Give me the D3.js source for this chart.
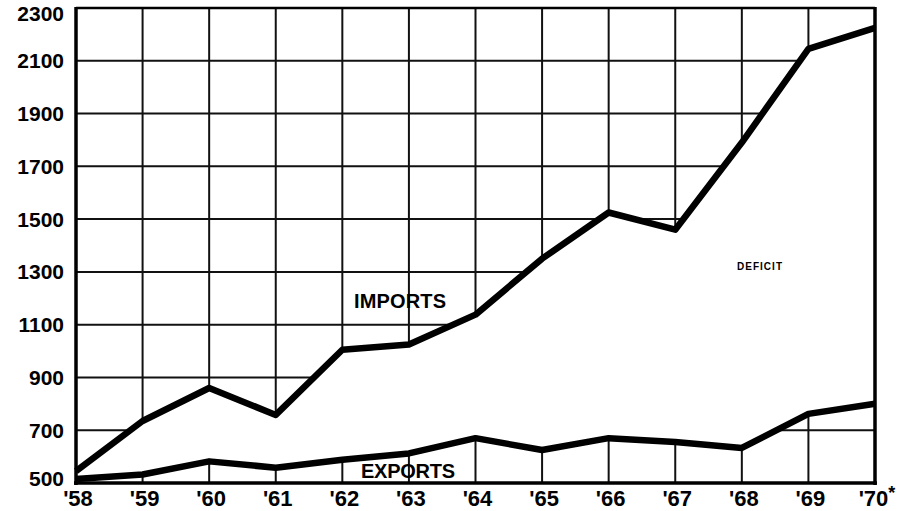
<!DOCTYPE html>
<html><head><meta charset="utf-8">
<script src="https://cdn.jsdelivr.net/npm/d3@7"></script>
<style>html,body{margin:0;padding:0;background:#fff;}</style>
</head><body>
<svg id="c" width="911" height="511"></svg>
<script>
const years = ["'58","'59","'60","'61","'62","'63","'64","'65","'66","'67","'68","'69","'70"];
const imports = [545, 735, 860, 758, 1005, 1025, 1138, 1350, 1525, 1460, 1790, 2145, 2225];
const exports = [515, 532, 582, 558, 588, 612, 670, 625, 670, 655, 633, 762, 800];
const yTicks = [500, 700, 900, 1100, 1300, 1500, 1700, 1900, 2100, 2300];

const svg = d3.select("#c");
const L = 76, R = 875, T = 8, B = 483;
const x = d3.scalePoint().domain(years).range([L, R]);
const y = d3.scaleLinear().domain([500, 2300]).range([B, T]);
const font = "'Liberation Sans', Arial, sans-serif";

// grid
const g = svg.append("g");
g.selectAll("line.v").data(years).join("line")
  .attr("x1", d => x(d)).attr("x2", d => x(d)).attr("y1", T).attr("y2", B)
  .attr("stroke", "#111").attr("stroke-width", 2);
g.selectAll("line.h").data(yTicks).join("line")
  .attr("x1", L).attr("x2", R).attr("y1", d => y(d)).attr("y2", d => y(d))
  .attr("stroke", "#111").attr("stroke-width", 2);

// deficit area (white, hides grid)
const idx = d3.range(years.length);
const area = d3.area().x(i => x(years[i])).y0(i => y(exports[i])).y1(i => y(imports[i]));
svg.append("path").datum(idx).attr("d", area).attr("fill", "#fff");

// frame
svg.append("line").attr("x1", L).attr("x2", L).attr("y1", T-1).attr("y2", B+2).attr("stroke", "#000").attr("stroke-width", 3.5);
svg.append("line").attr("x1", R).attr("x2", R).attr("y1", T-1).attr("y2", B+2).attr("stroke", "#000").attr("stroke-width", 3.5);
svg.append("line").attr("x1", L).attr("x2", R).attr("y1", T).attr("y2", T).attr("stroke", "#000").attr("stroke-width", 2.5);
svg.append("line").attr("x1", L-2).attr("x2", R+2).attr("y1", B).attr("y2", B).attr("stroke", "#000").attr("stroke-width", 3.5);

// lines
const line = arr => d3.line().x(i => x(years[i])).y(i => y(arr[i]));
svg.append("path").datum(idx).attr("d", line(imports)).attr("fill", "none")
  .attr("stroke", "#000").attr("stroke-width", 6.5).attr("stroke-linejoin", "round");
svg.append("path").datum(idx).attr("d", line(exports)).attr("fill", "none")
  .attr("stroke", "#000").attr("stroke-width", 6.5).attr("stroke-linejoin", "round");

// y labels
svg.selectAll("text.yl").data(yTicks).join("text")
  .attr("x", 64).attr("y", d => y(d) + (d === 2300 ? 5 : d === 500 ? -5 : 0)).attr("dy", "0.36em")
  .attr("text-anchor", "end").attr("font-family", font).attr("font-weight", "bold")
  .attr("font-size", 21).attr("fill", "#000").text(d => d);

// x labels
const xl = svg.selectAll("text.xl").data(years).join("text")
  .attr("x", d => x(d) + 2).attr("y", 506)
  .attr("text-anchor", "middle").attr("font-family", font).attr("font-weight", "bold")
  .attr("font-size", 22).attr("fill", "#000").text(d => d);
xl.filter((d, i) => i === years.length - 1).attr("x", d => x(d) + 2)
  .append("tspan").attr("dy", -7).attr("font-size", 18).text("*");

// annotations
svg.append("text").attr("x", 354).attr("y", 308).attr("font-family", font).attr("font-weight", "bold")
  .attr("font-size", 20).attr("textLength", 92).text("IMPORTS");
svg.append("text").attr("x", 361).attr("y", 478).attr("font-family", font).attr("font-weight", "bold")
  .attr("font-size", 20).attr("textLength", 94).text("EXPORTS");
svg.append("text").attr("x", 737).attr("y", 270).attr("font-family", font).attr("font-weight", "bold")
  .attr("font-size", 10).attr("textLength", 45).text("DEFICIT");
</script>
</body></html>
